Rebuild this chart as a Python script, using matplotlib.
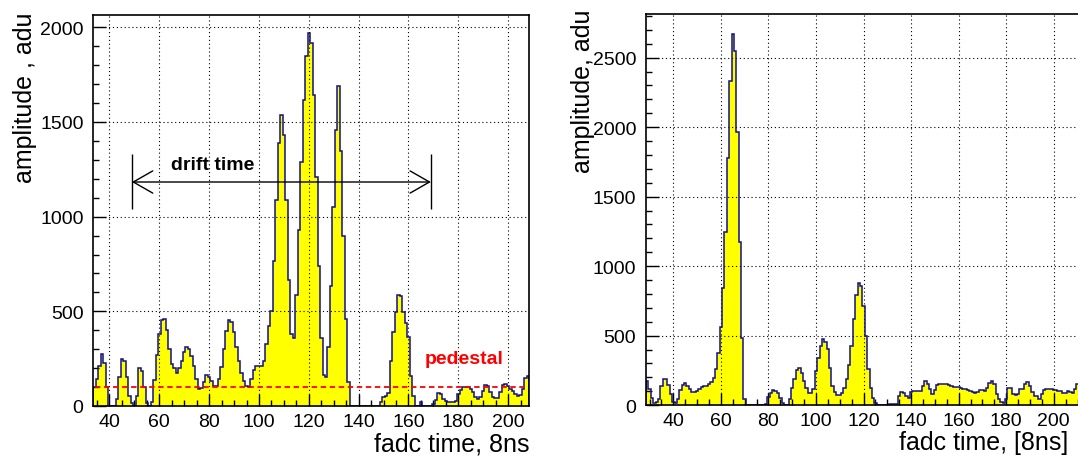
import numpy as np
import matplotlib.pyplot as plt
from matplotlib.ticker import MultipleLocator

plt.rcParams['font.family'] = ['Liberation Sans', 'DejaVu Sans']

# left pulse: one value per fadc sample, first sample = 34
left_first = 34
left_amp = [
    99, 140, 213, 272, 226, 99, 0, 0, 0, 37,
    155, 249, 236, 155, 55, 16, 0, 55, 201, 183,
    99, 16, 0, 23, 139, 270, 381, 455, 460, 400,
    300, 222, 200, 175, 200, 240, 285, 309, 300, 265,
    210, 140, 90, 93, 129, 164, 155, 130, 108, 104,
    143, 205, 300, 395, 452, 446, 390, 310, 240, 173,
    130, 104, 99, 143, 192, 213, 210, 213, 240, 330,
    420, 500, 766, 1087, 1387, 1536, 1431, 1087, 667, 381,
    358, 584, 928, 1290, 1614, 1850, 1969, 1916, 1642, 1210,
    739, 358, 164, 152, 314, 633, 1051, 1457, 1692, 1346,
    898, 457, 125, 0, 0, 0, 0, 0, 0, 0,
    0, 0, 0, 0, 0, 19, 46, 55, 70, 240,
    390, 496, 587, 580, 496, 440, 363, 160, 55, 0,
    0, 19, 0, 0, 0, 0, 10, 34, 67, 64,
    35, 25, 23, 23, 23, 25, 64, 86, 99, 102,
    102, 90, 72, 46, 37, 46, 81, 111, 104, 76,
    46, 42, 42, 76, 111, 116, 108, 90, 78, 64,
    55, 58, 90, 146, 160,
]

# right pulse, first sample = 29
right_first = 29
right_amp = [
    175, 120, 55, 19, 24, 43, 139, 187, 187, 146,
    79, 24, 19, 43, 108, 146, 163, 139, 115, 98,
    96, 103, 120, 130, 135, 140, 150, 165, 199, 259,
    372, 559, 846, 1249, 1775, 2333, 2669, 2549, 1962, 1175,
    480, 43, 0, 0, 0, 0, 0, 0, 0, 0,
    10, 62, 91, 110, 103, 86, 55, 19, 0, 0,
    43, 127, 192, 254, 264, 230, 175, 122, 86, 86,
    120, 247, 336, 427, 475, 456, 403, 271, 139, 96,
    72, 72, 91, 122, 187, 288, 427, 623, 791, 882,
    858, 715, 499, 259, 127, 55, 19, 0, 0, 0,
    0, 5, 12, 12, 12, 12, 67, 96, 86, 67,
    55, 95, 103, 100, 104, 104, 140, 176, 156, 116,
    80, 111, 146, 151, 149, 149, 149, 145, 140, 134,
    134, 128, 122, 118, 115, 112, 103, 96, 91, 98,
    110, 112, 100, 122, 163, 175, 151, 79, 43, 24,
    19, 48, 127, 122, 84, 74, 84, 120, 120, 151,
    168, 139, 96, 67, 67, 48, 79, 110, 115, 115,
    115, 110, 110, 105, 103, 91, 91, 103, 96, 91,
    120, 149,
]

pedestal = 100
drift_from, drift_to = 49, 169


def draw_hist(ax, first, amp):
    edges = np.arange(len(amp) + 1) + first - 0.5
    ax.stairs(amp, edges, fill=True, color='#ffff00', zorder=2)
    ax.stairs(amp, edges, baseline=0, color='#10108c', lw=1.1, zorder=3)


def style_axis(ax):
    ax.xaxis.set_major_locator(MultipleLocator(20))
    ax.xaxis.set_minor_locator(MultipleLocator(5))
    ax.yaxis.set_major_locator(MultipleLocator(500))
    ax.yaxis.set_minor_locator(MultipleLocator(100))
    ax.tick_params(which='both', direction='in', labelsize=14, top=False, right=False)
    ax.tick_params(which='major', length=9, width=1)
    ax.tick_params(which='minor', length=4.5, width=1)
    ax.tick_params(axis='x', pad=5)
    ax.tick_params(axis='y', pad=7)
    ax.grid(True, which='major', color='black', lw=0.8, ls=(0, (1, 2.5)), zorder=1)
    ax.set_axisbelow(False)
    for s in ax.spines.values():
        s.set_linewidth(1.2)
        s.set_zorder(5)


fig = plt.figure(figsize=(10.78, 4.6), dpi=100)

ax1 = fig.add_axes([93.3 / 1078, 1 - 407 / 460, 436 / 1078, 391 / 460])
draw_hist(ax1, left_first, left_amp)
ax1.set_xlim(33.5, 208.5)
ax1.set_ylim(0, 2065)
style_axis(ax1)
ax1.hlines(pedestal, 34, 206, colors='red', lw=1.3, linestyles=(0, (3, 2)), zorder=4)
ax1.text(166.5, 249, 'pedestal', color='red', fontsize=14, fontweight='bold',
         ha='left', va='center', zorder=6)
ax1.vlines([drift_from, drift_to], 1040, 1330, colors='black', lw=1.0, zorder=4)
ax1.annotate('', xy=(drift_from, 1183), xytext=(drift_to, 1183),
             arrowprops=dict(arrowstyle='<->,head_length=1.4,head_width=0.8',
                             color='black', lw=1.0, shrinkA=0, shrinkB=0),
             zorder=4)
ax1.text(64.5, 1275, 'drift time', fontsize=14, fontweight='bold',
         ha='left', va='center', zorder=6)
ax1.set_xlabel('fadc time, 8ns', fontsize=18, loc='right')
ax1.xaxis.set_label_coords(1.0, -0.064)
ax1.set_ylabel('amplitude , adu', fontsize=18, loc='top')
ax1.yaxis.set_label_coords(-0.129, 1.01)

ax2 = fig.add_axes([646 / 1078, 1 - 406.2 / 460, 432.5 / 1078, 391.2 / 460])
draw_hist(ax2, right_first, right_amp)
ax2.set_xlim(28.5, 210.4)
ax2.set_ylim(0, 2814)
style_axis(ax2)
ax2.spines['right'].set_visible(False)
ax2.set_xlabel('fadc time, [8ns]', fontsize=18, loc='right')
ax2.xaxis.set_label_coords(0.976, -0.064)
ax2.set_ylabel('amplitude, adu', fontsize=18, loc='top')
ax2.yaxis.set_label_coords(-0.118, 1.013)

fig.savefig('out.png', dpi=100)
